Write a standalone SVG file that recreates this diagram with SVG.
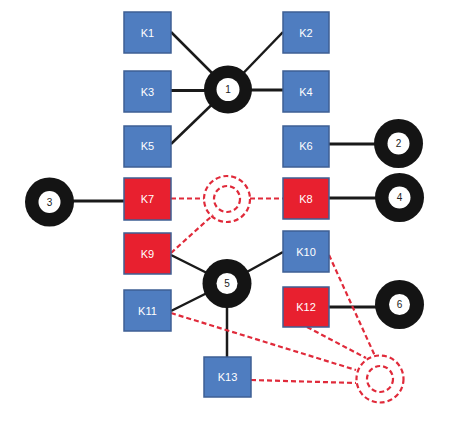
<svg xmlns="http://www.w3.org/2000/svg" width="456" height="423" viewBox="0 0 456 423">
<defs>
<style>
.box{stroke:#3e5f94;stroke-width:1.5}
.blue{fill:#4f7dc0}
.red{fill:#e8202f}
.lbl{font-family:"Liberation Sans",Arial,sans-serif;font-size:11px;fill:#ffffff;text-anchor:middle;dominant-baseline:central}
.num{font-family:"Liberation Sans",Arial,sans-serif;font-size:10px;fill:#222222;text-anchor:middle;dominant-baseline:central}
.ring{fill:#141414}
.hole{fill:#ffffff}
.ln{stroke:#1a1a1a;stroke-width:2.5;fill:none}
.ln2{stroke:#1a1a1a;stroke-width:3;fill:none}
.dash{stroke:#e02a3a;stroke-width:2.2;stroke-dasharray:5 3;fill:none}
</style>
</defs>
<rect width="456" height="423" fill="#ffffff"/>
<g id="connectors">
<line class="ln" x1="171" y1="32" x2="228" y2="89"/>
<line class="ln" x1="283" y1="32" x2="228" y2="89"/>
<line class="ln2" x1="171" y1="90.5" x2="228" y2="90.5"/>
<line class="ln2" x1="283" y1="90" x2="228" y2="90"/>
<line class="ln" x1="171" y1="144" x2="228" y2="89"/>
<line class="ln2" x1="329" y1="144" x2="398" y2="144"/>
<line class="ln2" x1="124" y1="201" x2="50" y2="201"/>
<line class="ln2" x1="329" y1="198" x2="399" y2="198"/>
<line class="ln" x1="171" y1="255" x2="227" y2="283"/>
<line class="ln" x1="283" y1="252" x2="227" y2="283"/>
<line class="ln" x1="171" y1="311" x2="227" y2="283"/>
<line class="ln" x1="227" y1="357" x2="227" y2="283"/>
<line class="ln2" x1="329" y1="307" x2="399" y2="307"/>
<line class="dash" x1="171" y1="198.5" x2="204" y2="198.5"/>
<line class="dash" x1="250" y1="198.5" x2="283" y2="198.5"/>
<line class="dash" x1="171" y1="253" x2="213" y2="215"/>
<line class="dash" x1="329" y1="255" x2="375" y2="356"/>
<line class="dash" x1="307" y1="327" x2="366" y2="358"/>
<line class="dash" x1="171" y1="313" x2="356" y2="370"/>
<line class="dash" x1="251" y1="380" x2="356" y2="383"/>
</g>
<g id="K1"><rect class="box blue" x="124" y="12" width="47" height="41"/><text class="lbl" x="147.5" y="33">K1</text></g>
<g id="K2"><rect class="box blue" x="283" y="12" width="46" height="41"/><text class="lbl" x="306" y="33">K2</text></g>
<g id="K3"><rect class="box blue" x="124" y="71" width="47" height="41"/><text class="lbl" x="147.5" y="92">K3</text></g>
<g id="K4"><rect class="box blue" x="283" y="71" width="46" height="41"/><text class="lbl" x="306" y="92">K4</text></g>
<g id="K5"><rect class="box blue" x="124" y="126" width="47" height="41"/><text class="lbl" x="147.5" y="146">K5</text></g>
<g id="K6"><rect class="box blue" x="283" y="126" width="46" height="41"/><text class="lbl" x="306" y="146">K6</text></g>
<g id="K7"><rect class="box red" x="124" y="178" width="47" height="42"/><text class="lbl" x="147.5" y="199">K7</text></g>
<g id="K8"><rect class="box red" x="283" y="178" width="46" height="41"/><text class="lbl" x="306" y="198.5">K8</text></g>
<g id="K9"><rect class="box red" x="124" y="233" width="47" height="41"/><text class="lbl" x="147.5" y="254">K9</text></g>
<g id="K10"><rect class="box blue" x="283" y="231" width="46" height="41"/><text class="lbl" x="306" y="252">K10</text></g>
<g id="K11"><rect class="box blue" x="124" y="290" width="47" height="41"/><text class="lbl" x="147.5" y="311">K11</text></g>
<g id="K12"><rect class="box red" x="283" y="287" width="46" height="40"/><text class="lbl" x="306" y="307">K12</text></g>
<g id="K13"><rect class="box blue" x="204" y="357" width="47" height="40"/><text class="lbl" x="227.5" y="377">K13</text></g>
<g id="N1"><circle class="ring" cx="228" cy="89.5" r="24"/><circle class="hole" cx="228" cy="89.5" r="11.5"/><text class="num" x="228" y="89.5">1</text></g>
<g id="N2"><circle class="ring" cx="398.5" cy="143.5" r="24.5"/><circle class="hole" cx="398.5" cy="143.5" r="11"/><text class="num" x="398.5" y="143.5">2</text></g>
<g id="N3"><circle class="ring" cx="49.5" cy="202" r="24.5"/><circle class="hole" cx="49.5" cy="202" r="11"/><text class="num" x="49.5" y="202">3</text></g>
<g id="N4"><circle class="ring" cx="399.5" cy="197.5" r="24.5"/><circle class="hole" cx="399.5" cy="197.5" r="11"/><text class="num" x="399.5" y="197.5">4</text></g>
<g id="N5"><circle class="ring" cx="227" cy="283.5" r="24.5"/><circle class="hole" cx="227" cy="283.5" r="10.5"/><text class="num" x="227" y="283.5">5</text></g>
<g id="N6"><circle class="ring" cx="399.5" cy="304.5" r="24.5"/><circle class="hole" cx="399.5" cy="304.5" r="10.5"/><text class="num" x="399.5" y="304.5">6</text></g>
<g id="D1"><circle class="dash" cx="227" cy="199" r="23"/><circle class="dash" cx="227" cy="199" r="13"/></g>
<g id="D2"><circle class="dash" cx="380" cy="379" r="23.5"/><circle class="dash" cx="380" cy="379" r="13"/></g>
</svg>
